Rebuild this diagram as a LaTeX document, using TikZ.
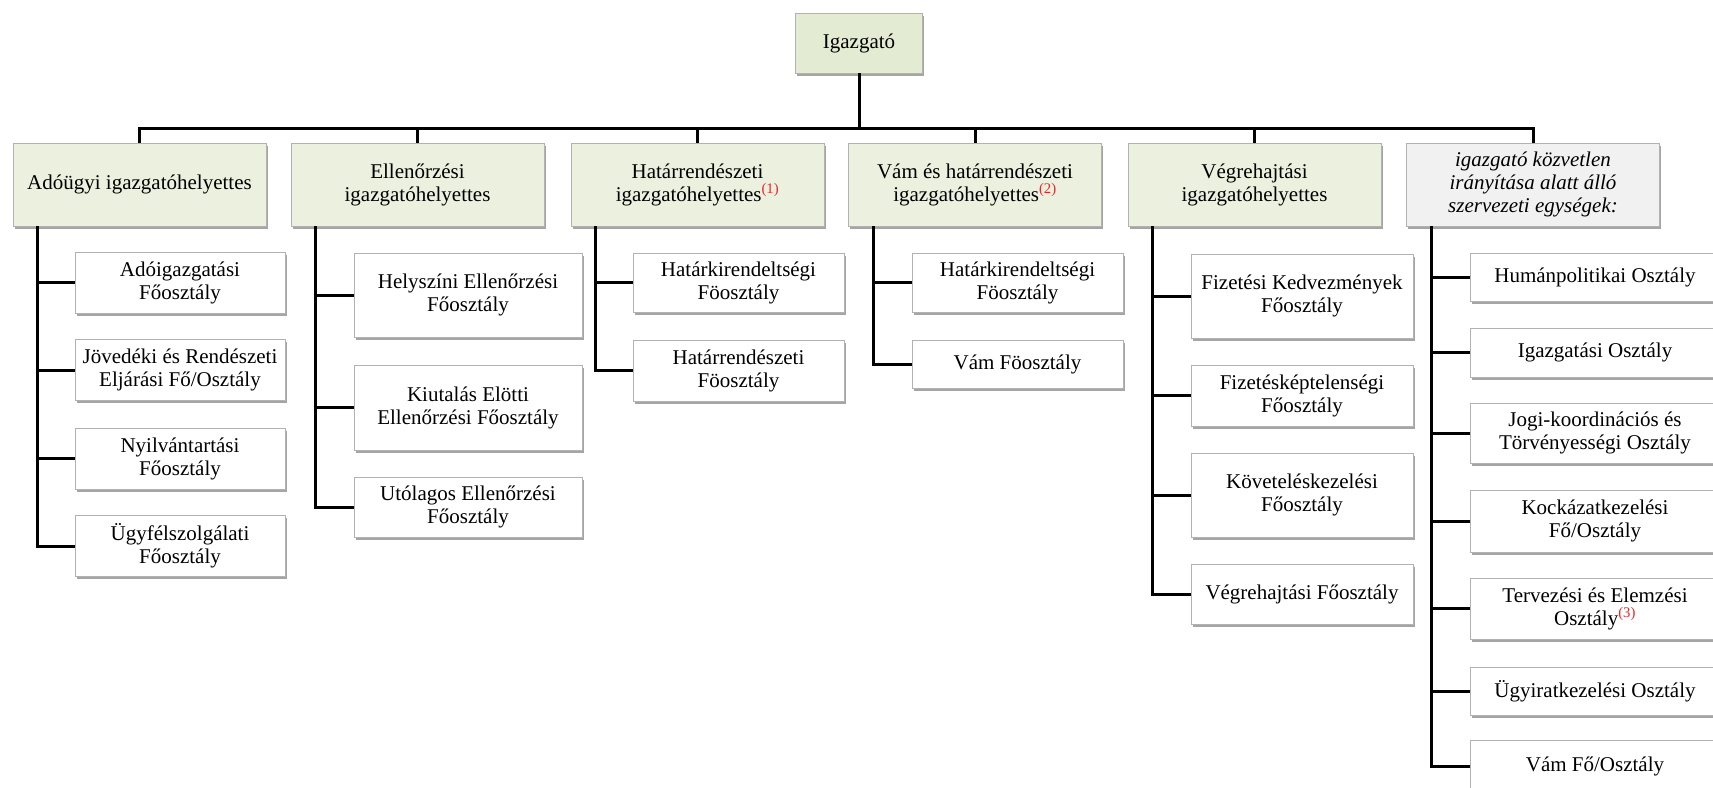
\documentclass[tikz,border=0pt]{standalone}
\usepackage{fontspec}
\setmainfont{Liberation Serif}
\usetikzlibrary{shadows}

\definecolor{vertig}{HTML}{E3EBD3}
\definecolor{vertclair}{HTML}{EBF1DE}
\definecolor{grisclair}{HTML}{F1F1F1}
\definecolor{bord}{HTML}{B2B2B2}
\definecolor{rouge}{HTML}{E8262A}

\newcommand{\renvoi}[1]{\textsuperscript{\textcolor{rouge}{(#1)}}}

\begin{document}
\begin{tikzpicture}[x=1pt, y=-1pt,
  boite/.style={draw=bord, line width=0.8pt, align=center, inner sep=2pt,
    font=\fontsize{21}{23}\selectfont,
    drop shadow={shadow xshift=1.5pt, shadow yshift=-2.5pt, fill=black!70, opacity=0.5}},
  chef/.style={boite, fill=vertig, minimum width=127pt, minimum height=60pt},
  adj/.style={boite, fill=vertclair, minimum width=253pt, minimum height=83pt},
  osz/.style={boite, fill=white, minimum width=#1},
  lien/.style={line width=3pt}]

\useasboundingbox (0,0) rectangle (1713,787);

% Igazgató
\node[chef] (dir) at (859,43) {Igazgató};

% Igazgatóhelyettesek
\node[adj] (h1) at (139.5,184.5) {Adóügyi igazgatóhelyettes};
\node[adj] (h2) at (417.5,184.5) {Ellenőrzési\\igazgatóhelyettes};
\node[adj] (h3) at (697.5,184.5) {Határrendészeti\\igazgatóhelyettes\renvoi{1}};
\node[adj] (h4) at (975,184.5) {Vám és határrendészeti\\igazgatóhelyettes\renvoi{2}};
\node[adj] (h5) at (1254.5,184.5) {Végrehajtási\\igazgatóhelyettes};
\node[adj, fill=grisclair, font=\fontsize{21}{23}\selectfont\itshape] (h6) at (1533,184.5)
  {igazgató közvetlen\\irányítása alatt álló\\szervezeti egységek:};

% Liens vers les adjoints
\draw[lien] (dir.south) -- ++(0,55) -| (h1.north);
\draw[lien] (dir.south) -- ++(0,55) -| (h2.north);
\draw[lien] (dir.south) -- ++(0,55) -| (h3.north);
\draw[lien] (dir.south) -- ++(0,55) -| (h4.north);
\draw[lien] (dir.south) -- ++(0,55) -| (h5.north);
\draw[lien] (dir.south) -- ++(0,55) -| (h6.north);

% Adóügyi
\node[osz=210pt, minimum height=61pt] (s11) at (180,282.5) {Adóigazgatási\\Főosztály};
\node[osz=210pt, minimum height=61pt] (s12) at (180,370) {Jövedéki és Rendészeti\\Eljárási Fő/Osztály};
\node[osz=210pt, minimum height=61pt] (s13) at (180,458.5) {Nyilvántartási\\Főosztály};
\node[osz=210pt, minimum height=61pt] (s14) at (180,546) {Ügyfélszolgálati\\Főosztály};

% Ellenőrzési
\node[osz=228pt, minimum height=84pt] (s21) at (468,295) {Helyszíni Ellenőrzési\\Főosztály};
\node[osz=228pt, minimum height=85pt] (s22) at (468,407.5) {Kiutalás Elötti\\Ellenőrzési Főosztály};
\node[osz=228pt, minimum height=60pt] (s23) at (468,507) {Utólagos Ellenőrzési\\Főosztály};

% Határrendészeti
\node[osz=211pt, minimum height=59pt] (s31) at (738.5,282.5) {Határkirendeltségi\\Föosztály};
\node[osz=211pt, minimum height=61pt] (s32) at (738.5,370.5) {Határrendészeti\\Föosztály};

% Vám és határrendészeti
\node[osz=211pt, minimum height=59pt] (s41) at (1017.5,282.5) {Határkirendeltségi\\Föosztály};
\node[osz=211pt, minimum height=48pt] (s42) at (1017.5,364) {Vám Föosztály};

% Végrehajtási
\node[osz=222pt, minimum height=84pt] (s51) at (1302,296) {Fizetési Kedvezmények\\Főosztály};
\node[osz=222pt, minimum height=61pt] (s52) at (1302,395.5) {Fizetésképtelenségi\\Főosztály};
\node[osz=222pt, minimum height=84pt] (s53) at (1302,495) {Követeléskezelési\\Főosztály};
\node[osz=222pt, minimum height=60pt] (s54) at (1302,594) {Végrehajtási Főosztály};

% Igazgató közvetlen irányítása alatt
\node[osz=250pt, minimum height=48pt] (s61) at (1595,277) {Humánpolitikai Osztály};
\node[osz=250pt, minimum height=49pt] (s62) at (1595,352.5) {Igazgatási Osztály};
\node[osz=250pt, minimum height=60pt] (s63) at (1595,433) {Jogi-koordinációs és\\Törvényességi Osztály};
\node[osz=250pt, minimum height=62pt] (s64) at (1595,521) {Kockázatkezelési\\Fő/Osztály};
\node[osz=250pt, minimum height=61pt] (s65) at (1595,608.5) {Tervezési és Elemzési\\Osztály\renvoi{3}};
\node[osz=250pt, minimum height=48pt] (s66) at (1595,691) {Ügyiratkezelési Osztály};
\node[osz=250pt, minimum height=52pt] (s67) at (1595,766) {Vám Fő/Osztály};

% Liens vers les osztályok
\draw[lien] ([xshift=25pt]h1.south west) |- (s11.west);
\draw[lien] ([xshift=25pt]h1.south west) |- (s12.west);
\draw[lien] ([xshift=25pt]h1.south west) |- (s13.west);
\draw[lien] ([xshift=25pt]h1.south west) |- (s14.west);
\draw[lien] ([xshift=25pt]h2.south west) |- (s21.west);
\draw[lien] ([xshift=25pt]h2.south west) |- (s22.west);
\draw[lien] ([xshift=25pt]h2.south west) |- (s23.west);
\draw[lien] ([xshift=25pt]h3.south west) |- (s31.west);
\draw[lien] ([xshift=25pt]h3.south west) |- (s32.west);
\draw[lien] ([xshift=25pt]h4.south west) |- (s41.west);
\draw[lien] ([xshift=25pt]h4.south west) |- (s42.west);
\draw[lien] ([xshift=25pt]h5.south west) |- (s51.west);
\draw[lien] ([xshift=25pt]h5.south west) |- (s52.west);
\draw[lien] ([xshift=25pt]h5.south west) |- (s53.west);
\draw[lien] ([xshift=25pt]h5.south west) |- (s54.west);
\draw[lien] ([xshift=25pt]h6.south west) |- (s61.west);
\draw[lien] ([xshift=25pt]h6.south west) |- (s62.west);
\draw[lien] ([xshift=25pt]h6.south west) |- (s63.west);
\draw[lien] ([xshift=25pt]h6.south west) |- (s64.west);
\draw[lien] ([xshift=25pt]h6.south west) |- (s65.west);
\draw[lien] ([xshift=25pt]h6.south west) |- (s66.west);
\draw[lien] ([xshift=25pt]h6.south west) |- (s67.west);

\end{tikzpicture}
\end{document}
